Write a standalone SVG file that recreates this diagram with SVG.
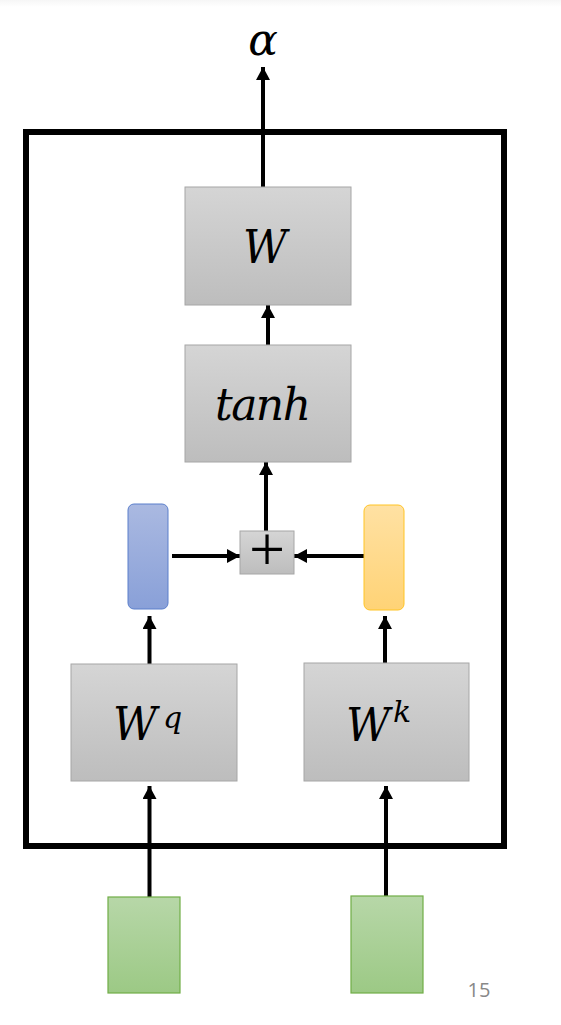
<svg xmlns="http://www.w3.org/2000/svg" width="561" height="1025" viewBox="0 0 561 1025">
<defs>
<linearGradient id="gGray" x1="0" y1="0" x2="0" y2="1"><stop offset="0" stop-color="#d5d5d5"/><stop offset="1" stop-color="#bdbdbd"/></linearGradient>
<linearGradient id="gBlue" x1="0" y1="0" x2="0" y2="1"><stop offset="0" stop-color="#aab9e1"/><stop offset="1" stop-color="#89a0d8"/></linearGradient>
<linearGradient id="gYellow" x1="0" y1="0" x2="0" y2="1"><stop offset="0" stop-color="#ffe1a3"/><stop offset="1" stop-color="#ffd376"/></linearGradient>
<linearGradient id="gGreen" x1="0" y1="0" x2="0" y2="1"><stop offset="0" stop-color="#b7d7a8"/><stop offset="1" stop-color="#9cc985"/></linearGradient>
<linearGradient id="gTop" x1="0" y1="0" x2="0" y2="1"><stop offset="0" stop-color="#f6f6f6"/><stop offset="1" stop-color="#ffffff"/></linearGradient>
<marker id="ah" markerUnits="userSpaceOnUse" markerWidth="14" markerHeight="14" viewBox="0 0 14 14" refX="13" refY="7" orient="auto">
<path d="M0,0 L13,7 L0,14 Z" fill="#000"/>
</marker>
</defs>
<style>
.box{fill:url(#gGray);stroke:#a6a6a6;stroke-width:1}
.math{font-family:"DejaVu Serif","Liberation Serif",serif;font-style:italic;fill:#000}
.conn{stroke:#000;stroke-width:4;fill:none;marker-end:url(#ah)}
</style>
<rect x="0" y="0" width="561" height="7" fill="url(#gTop)"/>
<rect id="frame" x="26" y="132" width="478" height="714" fill="none" stroke="#000" stroke-width="6"/>

<g id="connectors">
<line class="conn" x1="263" y1="187" x2="263" y2="67"/>
<line class="conn" x1="268" y1="345" x2="268" y2="305"/>
<line class="conn" x1="266" y1="531" x2="266" y2="462"/>
<line class="conn" x1="172" y1="556" x2="240" y2="556"/>
<line class="conn" x1="364" y1="556" x2="294" y2="556"/>
<line class="conn" x1="149.5" y1="664" x2="149.5" y2="616"/>
<line class="conn" x1="385" y1="663" x2="385" y2="616"/>
<line class="conn" x1="149.5" y1="897" x2="149.5" y2="786"/>
<line class="conn" x1="386" y1="896" x2="386" y2="786"/>
</g>

<g id="alpha"><text class="math" x="263" y="55" font-size="44" text-anchor="middle">α</text></g>

<g id="W"><rect class="box" x="185" y="187" width="166" height="118"/>
<text class="math" x="243" y="263" font-size="46" textLength="44" lengthAdjust="spacingAndGlyphs">W</text></g>

<g id="tanh"><rect class="box" x="185" y="345" width="166" height="117"/>
<text class="math" x="263" y="420" font-size="44" text-anchor="middle" textLength="96">tanh</text></g>

<g id="plus"><rect class="box" x="240" y="531" width="54" height="43"/>
<text x="267" y="571" font-family="Liberation Serif,serif" font-size="64" text-anchor="middle" fill="#000">+</text></g>

<g id="q"><rect x="128" y="504" width="40" height="105" rx="6" fill="url(#gBlue)" stroke="#5b7fcb" stroke-width="1"/></g>
<g id="k"><rect x="364" y="505" width="40" height="105" rx="6" fill="url(#gYellow)" stroke="#ffc425" stroke-width="1"/></g>

<g id="Wq"><rect class="box" x="71" y="664" width="166" height="117"/>
<text class="math" x="113" y="740" font-size="46" textLength="44" lengthAdjust="spacingAndGlyphs">W</text>
<text class="math" x="163" y="728" font-size="30">q</text></g>

<g id="Wk"><rect class="box" x="304" y="663" width="165" height="118"/>
<text class="math" x="346" y="741" font-size="46" textLength="44" lengthAdjust="spacingAndGlyphs">W</text>
<text class="math" x="393" y="722" font-size="30">k</text></g>

<g id="x1"><rect x="108" y="897" width="72" height="96" fill="url(#gGreen)" stroke="#70ad47" stroke-width="1.2"/></g>
<g id="x2"><rect x="351" y="896" width="72" height="97" fill="url(#gGreen)" stroke="#70ad47" stroke-width="1.2"/></g>

<text x="479" y="997" font-family="Open Sans,Liberation Sans,sans-serif" font-size="20" fill="#888" text-anchor="middle">15</text>
</svg>
